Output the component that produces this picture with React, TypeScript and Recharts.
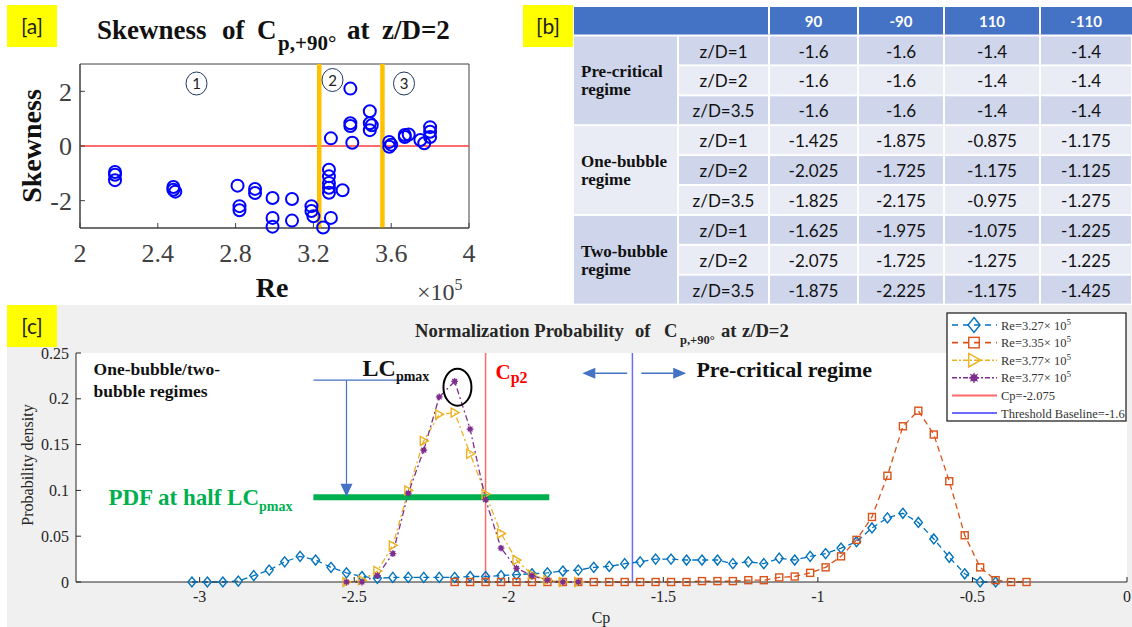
import React from 'react';
import {
  ScatterChart, Scatter, LineChart, Line, XAxis, YAxis,
  ReferenceLine, ReferenceArea, ReferenceDot, CartesianGrid,
} from 'recharts';

const SERIF = '"Liberation Serif", "Times New Roman", serif';
const SANS = 'Lato, "Open Sans", sans-serif';

// ---------------- Panel [a] data ----------------
const reValues = [2.18, 2.18, 2.18, 2.48, 2.48, 2.49, 2.81, 2.82, 2.82, 2.9, 2.9, 2.99, 2.99, 2.99, 3.09, 3.09, 3.19, 3.19, 3.2, 3.25, 3.29, 3.28, 3.28, 3.28, 3.28, 3.28, 3.35, 3.29, 3.39, 3.39, 3.39, 3.4, 3.49, 3.49, 3.49, 3.5, 3.59, 3.59, 3.6, 3.67, 3.67, 3.69, 3.75, 3.77, 3.8, 3.8, 3.8];
const skewValues = [-0.95, -1.05, -1.25, -1.5, -1.6, -1.67, -1.45, -2.2, -2.35, -1.57, -1.72, -1.9, -2.63, -2.95, -1.94, -2.73, -2.2, -2.38, -2.57, -2.98, -2.63, -0.87, -1.11, -1.35, -1.53, -1.71, -1.62, 0.28, 2.1, 0.83, 0.73, 0.12, 1.27, 0.83, 0.58, 0.76, 0.15, -0.03, 0.05, 0.4, 0.33, 0.42, 0.22, 0.1, 0.69, 0.52, 0.33];
const reTicks = [2, 2.4, 2.8, 3.2, 3.6, 4];
const skewTicks = [-2, 0, 2];
const regimeBoundaries = [3.23, 3.555];
const regimeMarks = ['1', '2', '3'];

// ---------------- Panel [b] data ----------------
const angleHeaders = ['90', '-90', '110', '-110'];
const regimeNames = [['Pre-critical', 'regime'], ['One-bubble', 'regime'], ['Two-bubble', 'regime']];
const heightLabels = ['z/D=1', 'z/D=2', 'z/D=3.5'];
const preCriticalCp = [
  ['-1.6', '-1.6', '-1.4', '-1.4'],
  ['-1.6', '-1.6', '-1.4', '-1.4'],
  ['-1.6', '-1.6', '-1.4', '-1.4'],
];
const oneBubbleCp = [
  ['-1.425', '-1.875', '-0.875', '-1.175'],
  ['-2.025', '-1.725', '-1.175', '-1.125'],
  ['-1.825', '-2.175', '-0.975', '-1.275'],
];
const twoBubbleCp = [
  ['-1.625', '-1.975', '-1.075', '-1.225'],
  ['-2.075', '-1.725', '-1.275', '-1.225'],
  ['-1.875', '-2.225', '-1.175', '-1.425'],
];

// ---------------- Panel [c] data ----------------
const cpBins = [-3.025, -2.975, -2.925, -2.875, -2.825, -2.775, -2.725, -2.675, -2.625, -2.575, -2.525, -2.475, -2.425, -2.375, -2.325, -2.275, -2.225, -2.175, -2.125, -2.075, -2.025, -1.975, -1.925, -1.875, -1.825, -1.775, -1.725, -1.675, -1.625, -1.575, -1.525, -1.475, -1.425, -1.375, -1.325, -1.275, -1.225, -1.175, -1.125, -1.075, -1.025, -0.975, -0.925, -0.875, -0.825, -0.775, -0.725, -0.675, -0.625, -0.575, -0.525, -0.475, -0.425, -0.375, -0.325];
const cpTicks = [-3, -2.5, -2, -1.5, -1, -0.5, 0];
const pdfTicks = [0, 0.05, 0.1, 0.15, 0.2, 0.25];
// Re=3.27e5, first value at cpBins[0]
const pdfRe327 = [0, 0, 0, 0.001, 0.007, 0.013, 0.022, 0.028, 0.024, 0.016, 0.01, 0.006, 0.004, 0.005, 0.005, 0.005, 0.005, 0.005, 0.006, 0.006, 0.007, 0.008, 0.009, 0.01, 0.012, 0.013, 0.016, 0.017, 0.02, 0.022, 0.025, 0.025, 0.024, 0.024, 0.024, 0.02, 0.022, 0.02, 0.026, 0.024, 0.028, 0.031, 0.037, 0.044, 0.059, 0.07, 0.075, 0.065, 0.047, 0.027, 0.009, 0, 0];
// Re=3.35e5, first value at cpBins[17]
const pdfRe335 = [0, 0, 0, 0, 0, 0, 0, 0, 0, 0, 0, 0, 0, 0, 0, 0, 0.001, 0.001, 0.001, 0.002, 0.002, 0.005, 0.006, 0.01, 0.016, 0.028, 0.046, 0.071, 0.116, 0.17, 0.187, 0.161, 0.11, 0.051, 0.016, 0.002, 0, 0];
// Re=3.77e5 (two runs), first value at cpBins[10]
const pdfRe377a = [0, 0.002, 0.012, 0.04, 0.1, 0.154, 0.183, 0.185, 0.14, 0.096, 0.053, 0.024, 0.008, 0.002, 0, 0];
const pdfRe377b = [0, 0, 0.007, 0.031, 0.097, 0.144, 0.202, 0.219, 0.167, 0.09, 0.037, 0.015, 0.007, 0.002, 0, 0];
const seriesStart = { re327: 0, re335: 17, re377a: 10, re377b: 10 };
const cp2Value = -2.075;
const thresholdValue = -1.6;
const halfPeakPdf = 0.0924;
const legendLabels = ['Re=3.27\u00d7 10', 'Re=3.35\u00d7 10', 'Re=3.77\u00d7 10', 'Re=3.77\u00d7 10', 'Cp=-2.075', 'Threshold Baseline=-1.6'];

const scatterData = reValues.map((re, i) => ({ re, sk: skewValues[i] }));
const pick = (arr: number[], start: number, i: number) => {
  const v = arr[i - start];
  return v === undefined ? null : v;
};
const pdfData = cpBins.map((cp, i) => ({
  cp,
  re327: pick(pdfRe327, seriesStart.re327, i),
  re335: pick(pdfRe335, seriesStart.re335, i),
  re377a: pick(pdfRe377a, seriesStart.re377a, i),
  re377b: pick(pdfRe377b, seriesStart.re377b, i),
}));

const C_BLUE = '#0072BD';
const C_ORANGE = '#D95319';
const C_YELLOW = '#EDB120';
const C_PURPLE = '#7E2F8E';
const C_RED = '#FF6B6B';
const C_THR = '#6B6BFF';
const ARROW = '#4472C4';

type MK = 'diamond' | 'square' | 'triangle' | 'star';
function Marker({ kind, x, y, color, s = 1 }: { kind: MK; x: number; y: number; color: string; s?: number }) {
  if (kind === 'diamond') {
    return <path d={`M${x},${y - 5 * s}L${x + 4 * s},${y}L${x},${y + 5 * s}L${x - 4 * s},${y}Z`} fill="none" stroke={color} strokeWidth={1.4} />;
  }
  if (kind === 'square') {
    return <rect x={x - 3.5 * s} y={y - 3.5 * s} width={7 * s} height={7 * s} fill="none" stroke={color} strokeWidth={1.4} />;
  }
  if (kind === 'triangle') {
    return <path d={`M${x + 4.5 * s},${y}L${x - 3.5 * s},${y - 4.5 * s}L${x - 3.5 * s},${y + 4.5 * s}Z`} fill="none" stroke={color} strokeWidth={1.4} />;
  }
  const r = 3.4 * s;
  const d = 2.4 * s;
  return (
    <g>
      <circle cx={x} cy={y} r={2.4 * s} fill={color} />
      <path d={`M${x - r},${y}H${x + r}M${x},${y - r}V${y + r}M${x - d},${y - d}L${x + d},${y + d}M${x - d},${y + d}L${x + d},${y - d}`} stroke={color} strokeWidth={1.2} />
    </g>
  );
}

const dotFor = (kind: MK, color: string) => (p: any) => {
  const key = `d-${kind}-${p.index}`;
  if (p.cy == null || p.value == null || Number.isNaN(p.cy)) return <g key={key} />;
  return <g key={key}><Marker kind={kind} x={p.cx} y={p.cy} color={color} /></g>;
};

const circleShape = (p: any) => <circle cx={p.cx} cy={p.cy} r={6} fill="none" stroke="#0000FF" strokeWidth={2} />;

const arrowShape = (color: string, width: number, head: number, headW: number) => (p: any) => {
  const x1 = Number(p.x1), y1 = Number(p.y1), x2 = Number(p.x2), y2 = Number(p.y2);
  const dx = x2 - x1, dy = y2 - y1;
  const len = Math.hypot(dx, dy) || 1;
  const ux = dx / len, uy = dy / len;
  const bx = x2 - ux * head, by = y2 - uy * head;
  const px = (-uy * headW) / 2, py = (ux * headW) / 2;
  return (
    <g>
      <line x1={x1} y1={y1} x2={bx} y2={by} stroke={color} strokeWidth={width} />
      <polygon points={`${x2},${y2} ${bx + px},${by + py} ${bx - px},${by - py}`} fill={color} />
    </g>
  );
};

const textAt = (render: (x: number, y: number) => React.ReactNode) => (p: any) => <g>{render(p.cx, p.cy)}</g>;

function PanelA() {
  const tick = { fontSize: 26, fill: '#404040', fontFamily: SERIF };
  return (
    <div style={{ position: 'absolute', left: 0, top: 0 }}>
      <ScatterChart width={570} height={300} margin={{ top: 64, right: 101, bottom: 32, left: 20 }}>
        <XAxis dataKey="re" type="number" domain={[2, 4]} ticks={reTicks} interval={0} height={40}
          tickSize={-5} tickMargin={21} tick={tick} axisLine={{ stroke: '#404040' }} tickLine={{ stroke: '#404040' }} />
        <YAxis dataKey="sk" type="number" domain={[-3, 3]} ticks={skewTicks} interval={0} width={60}
          tickSize={-5} tickMargin={13} tick={tick} axisLine={{ stroke: '#404040' }} tickLine={{ stroke: '#404040' }} />
        <ReferenceArea x1={2} x2={4} y1={-3} y2={3} fill="none" stroke="#404040" strokeWidth={1} />
        <ReferenceLine y={0} stroke="#FF3B3B" strokeWidth={1.6} />
        <Scatter data={scatterData} shape={circleShape} isAnimationActive={false} />
        {regimeBoundaries.map((b) => (
          <ReferenceLine key={b} x={b} stroke="#FFC000" strokeWidth={4.5} />
        ))}
      </ScatterChart>
    </div>
  );
}

function PanelC() {
  const tick = { fontSize: 16, fill: '#262626', fontFamily: SERIF };
  return (
    <div style={{ position: 'absolute', left: 0, top: 305 }}>
      <LineChart width={1132} height={322} data={pdfData} margin={{ top: 48, right: 5, bottom: 15, left: 26 }}>
        <CartesianGrid fill="#ffffff" stroke="none" horizontal={false} vertical={false} />
        <XAxis dataKey="cp" type="number" domain={[-3.4, 0]} ticks={cpTicks} interval={0} height={30}
          allowDataOverflow tickSize={-5} tickMargin={14} tick={tick} axisLine={{ stroke: '#262626' }} tickLine={{ stroke: '#262626' }} />
        <YAxis type="number" domain={[0, 0.25]} ticks={pdfTicks} interval={0} width={50}
          tickSize={-5} tickMargin={12} tick={tick} axisLine={{ stroke: '#262626' }} tickLine={{ stroke: '#262626' }} />
        <ReferenceLine x={cp2Value} stroke={C_RED} strokeWidth={1.5} />
        <ReferenceLine x={thresholdValue} stroke={C_THR} strokeWidth={1.5} />
        <Line dataKey="re327" stroke={C_BLUE} strokeWidth={1.3} strokeDasharray="6 4" dot={dotFor('diamond', C_BLUE)} activeDot={false} isAnimationActive={false} />
        <Line dataKey="re335" stroke={C_ORANGE} strokeWidth={1.3} strokeDasharray="6 4" dot={dotFor('square', C_ORANGE)} activeDot={false} isAnimationActive={false} />
        <Line dataKey="re377a" stroke={C_YELLOW} strokeWidth={1.3} strokeDasharray="6 3 2 3" dot={dotFor('triangle', C_YELLOW)} activeDot={false} isAnimationActive={false} />
        <Line dataKey="re377b" stroke={C_PURPLE} strokeWidth={1.3} strokeDasharray="6 3 2 3" dot={dotFor('star', C_PURPLE)} activeDot={false} isAnimationActive={false} />

        <ReferenceLine segment={[{ x: -2.632, y: halfPeakPdf }, { x: -1.869, y: halfPeakPdf }]} stroke="#00B050" strokeWidth={6} ifOverflow="visible" />
        <ReferenceLine segment={[{ x: -2.632, y: 0.2204 }, { x: -2.312, y: 0.2204 }]} stroke={ARROW} strokeWidth={1.2} ifOverflow="visible" />
        <ReferenceLine segment={[{ x: -2.525, y: 0.2204 }, { x: -2.525, y: 0.093 }]} ifOverflow="visible" shape={arrowShape(ARROW, 1.2, 13, 12)} />
        <ReferenceLine segment={[{ x: -1.617, y: 0.228 }, { x: -1.762, y: 0.228 }]} ifOverflow="visible" shape={arrowShape(ARROW, 1.5, 13, 11)} />
        <ReferenceLine segment={[{ x: -1.571, y: 0.228 }, { x: -1.426, y: 0.228 }]} ifOverflow="visible" shape={arrowShape(ARROW, 1.5, 13, 11)} />
        <ReferenceDot x={-2.166} y={0.2127} r={0} ifOverflow="visible"
          shape={(p: any) => <ellipse cx={p.cx} cy={p.cy} rx={14} ry={18.5} fill="none" stroke="#000" strokeWidth={2} />} />

        <ReferenceDot x={-3.343} y={0.2259} r={0} ifOverflow="visible" shape={textAt((x, y) => (
          <text x={x} y={y} fontFamily={SERIF} fontWeight="bold" fontSize={17.5} fill="#111">
            <tspan x={x}>One-bubble/two-</tspan>
            <tspan x={x} dy={22}>bubble regimes</tspan>
          </text>
        ))} />
        <ReferenceDot x={-2.473} y={0.2248} r={0} ifOverflow="visible" shape={textAt((x, y) => (
          <text x={x} y={y} fontFamily={SERIF} fontWeight="bold" fontSize={24} fill="#111">
            LC<tspan fontSize={14} dy={5}>pmax</tspan>
          </text>
        ))} />
        <ReferenceDot x={-3.295} y={0.0844} r={0} ifOverflow="visible" shape={textAt((x, y) => (
          <text x={x} y={y} fontFamily={SERIF} fontWeight="bold" fontSize={23} fill="#00B050">
            PDF at half LC<tspan fontSize={14} dy={6}>pmax</tspan>
          </text>
        ))} />
        <ReferenceDot x={-2.043} y={0.2215} r={0} ifOverflow="visible" shape={textAt((x, y) => (
          <text x={x} y={y} fontFamily={SERIF} fontWeight="bold" fontSize={21} fill="#FF0000">
            C<tspan fontSize={16} dy={4}>p2</tspan>
          </text>
        ))} />
        <ReferenceDot x={-1.393} y={0.2237} r={0} ifOverflow="visible" shape={textAt((x, y) => (
          <text x={x} y={y} fontFamily={SERIF} fontWeight="bold" fontSize={22} fill="#111">
            Pre-critical regime
          </text>
        ))} />
      </LineChart>
    </div>
  );
}

function TableB() {
  const x = [574, 678, 769, 858, 944, 1040, 1132];
  const headerTop = 7;
  const headerH = 27.5;
  const rowTop = 35.5;
  const rowH = 29.9;
  const dark = '#CFD5EA';
  const light = '#E9EBF5';
  const groups = [preCriticalCp, oneBubbleCp, twoBubbleCp];
  const els: React.ReactNode[] = [];
  els.push(<rect key="bg" x={x[0]} y={headerTop} width={x[6] - x[0]} height={rowTop + 9 * rowH - headerTop} fill="#ffffff" />);
  els.push(<rect key="hdr" x={x[0]} y={headerTop} width={x[6] - x[0]} height={headerH} fill="#4472C4" />);
  for (let c = 2; c <= 5; c++) {
    els.push(<rect key={`hs${c}`} x={x[c] - 1} y={headerTop} width={2} height={headerH} fill="#ffffff" />);
  }
  angleHeaders.forEach((h, i) => {
    els.push(
      <text key={`ht${i}`} x={(x[i + 2] + x[i + 3]) / 2} y={headerTop + 19.5} textAnchor="middle"
        fontFamily={SANS} fontWeight="bold" fontSize={15} fill="#ffffff">{h}</text>
    );
  });
  groups.forEach((g, gi) => {
    const gy = rowTop + gi * 3 * rowH;
    const gFill = gi % 2 === 0 ? dark : light;
    els.push(<rect key={`g${gi}`} x={x[0]} y={gy + 1} width={x[1] - x[0] - 1} height={3 * rowH - 2} fill={gFill} />);
    const center = gy + 1.5 * rowH;
    els.push(
      <text key={`gt${gi}`} fontFamily={SERIF} fontWeight="bold" fontSize={17} fill="#111">
        <tspan x={x[0] + 7} y={center - 3}>{regimeNames[gi][0]}</tspan>
        <tspan x={x[0] + 7} y={center + 15}>{regimeNames[gi][1]}</tspan>
      </text>
    );
    g.forEach((row, ri) => {
      const r = gi * 3 + ri;
      const y0 = rowTop + r * rowH;
      const fill = r % 2 === 0 ? dark : light;
      els.push(<rect key={`z${r}`} x={x[1] + 1} y={y0 + 1} width={x[2] - x[1] - 2} height={rowH - 2} fill={fill} />);
      els.push(
        <text key={`zt${r}`} x={(x[1] + x[2]) / 2} y={y0 + 22} textAnchor="middle" fontFamily={SANS} fontSize={17} fill="#111">
          {heightLabels[ri]}
        </text>
      );
      row.forEach((v, ci) => {
        els.push(<rect key={`c${r}-${ci}`} x={x[ci + 2] + 1} y={y0 + 1} width={x[ci + 3] - x[ci + 2] - 2} height={rowH - 2} fill={fill} />);
        els.push(
          <text key={`ct${r}-${ci}`} x={(x[ci + 2] + x[ci + 3]) / 2} y={y0 + 22} textAnchor="middle" fontFamily={SANS} fontSize={17} fill="#111">
            {v}
          </text>
        );
      });
    });
  });
  return <g>{els}</g>;
}

function LegendC() {
  const kinds: (MK | null)[] = ['diamond', 'square', 'triangle', 'star', null, null];
  const colors = [C_BLUE, C_ORANGE, C_YELLOW, C_PURPLE, C_RED, C_THR];
  const dashes = ['6 5', '6 5', '5 2 2 2', '5 2 2 2', undefined, undefined];
  const left = 947, top = 313;
  return (
    <g>
      <rect x={left} y={top} width={179} height={108} fill="#ffffff" stroke="#262626" strokeWidth={1.3} />
      {legendLabels.map((lab, i) => {
        const cy = top + 12 + i * 17.6;
        const k = kinds[i];
        return (
          <g key={lab + i}>
            <line x1={952} y1={cy} x2={997} y2={cy} stroke={colors[i]} strokeWidth={k ? 1.6 : 2} strokeDasharray={dashes[i]} />
            {k && <Marker kind={k} x={974} y={cy} color={colors[i]} s={1.5} />}
            <text x={1001} y={cy + 4.5} fontFamily={SERIF} fontSize={12.5} fill="#333">
              {lab}
              {k && <tspan fontSize={9} dy={-5}>5</tspan>}
            </text>
          </g>
        );
      })}
    </g>
  );
}

function Overlay() {
  const circled = [
    { cx: 196.5, cy: 83.5 },
    { cx: 332.5, cy: 80 },
    { cx: 404, cy: 83.5 },
  ];
  return (
    <svg width={1132} height={627} style={{ position: 'absolute', left: 0, top: 0, pointerEvents: 'none' }}>
      {[{ x: 7, y: 5, t: '[a]' }, { x: 523, y: 5, t: '[b]' }, { x: 7, y: 305, t: '[c]' }].map((b) => (
        <g key={b.t}>
          <rect x={b.x} y={b.y} width={50} height={42} fill="#FFFF00" />
          <text x={b.x + 25} y={b.y + 29} textAnchor="middle" fontFamily={SANS} fontSize={21} fill="#222">{b.t}</text>
        </g>
      ))}

      <text y={39} fontFamily={SERIF} fontWeight="bold" fontSize={27} fill="#111">
        <tspan x={97}>Skewness</tspan>
        <tspan x={222}>of</tspan>
        <tspan x={257}>C</tspan>
        <tspan x={278} y={50} fontSize={21}>p,+90°</tspan>
        <tspan x={347} y={39}>at</tspan>
        <tspan x={382}>z/D=2</tspan>
      </text>
      <text x={272} y={297} textAnchor="middle" fontFamily={SERIF} fontWeight="bold" fontSize={28} fill="#111">Re</text>
      <text x={417} y={300} fontFamily={SERIF} fontSize={24} fill="#404040">
        ×10<tspan fontSize={16} dy={-10}>5</tspan>
      </text>
      <text transform="translate(41,146) rotate(-90)" textAnchor="middle" fontFamily={SERIF} fontWeight="bold" fontSize={28} fill="#111">Skewness</text>
      {circled.map((c, i) => (
        <g key={i}>
          <ellipse cx={c.cx} cy={c.cy} rx={10.5} ry={11.5} fill="none" stroke="#203864" strokeWidth={1} />
          <text x={c.cx} y={c.cy + 5.5} textAnchor="middle" fontFamily={SANS} fontSize={15} fill="#222">{regimeMarks[i]}</text>
        </g>
      ))}

      <TableB />

      <text y={337} fontFamily={SERIF} fontWeight="bold" fontSize={18.6} fill="#262626">
        <tspan x={415}>Normalization Probability</tspan>
        <tspan x={635}>of</tspan>
        <tspan x={664}>C</tspan>
        <tspan x={680} y={344} fontSize={12.5}>p,+90°</tspan>
        <tspan x={721} y={337}>at</tspan>
        <tspan x={742}>z/D=2</tspan>
      </text>
      <text x={601} y={623} textAnchor="middle" fontFamily={SERIF} fontSize={16} fill="#262626">Cp</text>
      <text transform="translate(33,465) rotate(-90)" textAnchor="middle" fontFamily={SERIF} fontSize={16} fill="#262626">Probability density</text>
      <LegendC />
    </svg>
  );
}

export default function App() {
  return (
    <div style={{ position: 'absolute', left: 0, top: 0, width: 1132, height: 627, background: '#ffffff', overflow: 'hidden' }}>
      <div style={{ position: 'absolute', left: 7, top: 305, width: 1125, height: 322, background: '#F0F0F0' }} />
      <PanelA />
      <PanelC />
      <Overlay />
    </div>
  );
}
